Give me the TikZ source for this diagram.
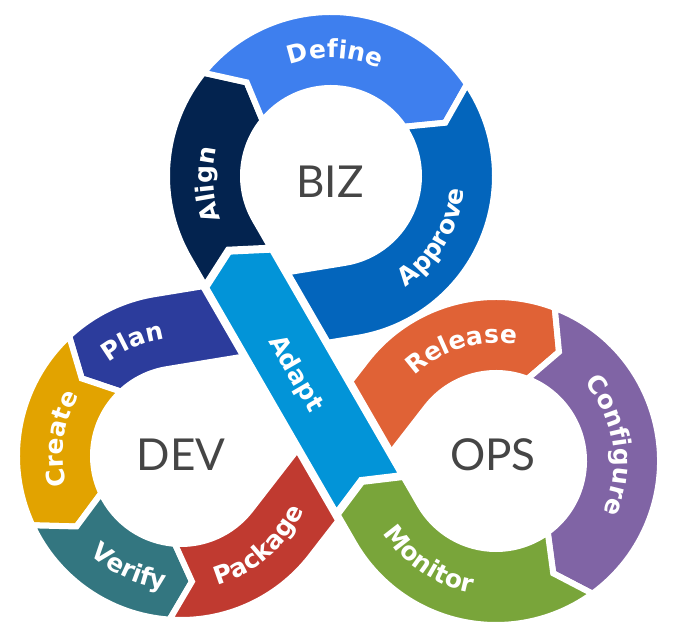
\documentclass[tikz,border=0pt]{standalone}
\usepackage{fontspec}
\newfontfamily\segfont{DejaVu Sans}
\newfontfamily\hubfont{Lato}
\usetikzlibrary{calc,decorations.text}
\definecolor{alignnavy}{HTML}{03234F}
\definecolor{defineblue}{HTML}{3E7FEE}
\definecolor{approveblue}{HTML}{0365BC}
\definecolor{adaptcyan}{HTML}{0294D8}
\definecolor{planindigo}{HTML}{2C3C9C}
\definecolor{creategold}{HTML}{E2A300}
\definecolor{verifyteal}{HTML}{337680}
\definecolor{packagered}{HTML}{C03A30}
\definecolor{releaseorange}{HTML}{E06236}
\definecolor{configurepurple}{HTML}{8064A5}
\definecolor{monitorgreen}{HTML}{79A53A}
\definecolor{hubgray}{HTML}{454545}

\begin{document}
\begin{tikzpicture}[x=1pt,y=1pt,
    piece/.style={fill=#1,draw=white,line width=6},
    strip/.style={fill=#1,draw=white,line width=8},
    hub/.style={font=\hubfont\fontsize{44}{44}\selectfont,text=hubgray},
    word/.style={decorate,decoration={text along path,text align=center,text color=white,
      text={|\segfont\bfseries\fontsize{25}{25}\selectfont|#1}}}]
        \useasboundingbox (0,0) rectangle (676,634);%
        \fill[white] (0,0) rectangle (676,634);%
        \coordinate (biz) at (331,458);%
        \coordinate (dev) at (181,178);%
        \coordinate (ops) at (496,173);%
        \coordinate (adapt) at ($(biz)+(210:126)$);%
        % BIZ loop
        \draw[piece=alignnavy] ($(biz)+(210:164)+(-60:30)$) -- ($(biz)+(210:164)$) arc[start angle=210,end angle=141,radius=164] -- ($(biz)+(132:126)$) -- ($(biz)+(141:88)$) arc[start angle=141,end angle=210,radius=88] -- ($(biz)+(210:88)+(-60:30)$) -- cycle;%
        \draw[piece=defineblue] ($(biz)+(141:164)$) arc[start angle=141,end angle=34,radius=164] -- ($(biz)+(25:126)$) -- ($(biz)+(34:88)$) arc[start angle=34,end angle=141,radius=88] -- ($(biz)+(132:126)$) -- cycle;%
        \draw[piece=approveblue] ($(biz)+(34:164)$) arc[start angle=34,end angle=-80.7,radius=164] -- ++(189.3:87.2) -- ($(biz)+(-80.7:88)+(189.3:87.2)$) -- ($(biz)+(-80.7:88)$) arc[start angle=-80.7,end angle=34,radius=88] -- ($(biz)+(25:126)$) -- cycle;%
        % DEV loop
        \draw[piece=planindigo] ($(dev)+(99.3:164)+(9.3:106.1)$) -- ($(dev)+(99.3:164)$) arc[start angle=99.3,end angle=133,radius=164] -- ($(dev)+(142:126)$) -- ($(dev)+(133:88)$) arc[start angle=133,end angle=99.3,radius=88] -- ($(dev)+(99.3:88)+(9.3:106.1)$) -- cycle;%
        \draw[piece=creategold] ($(dev)+(133:164)$) arc[start angle=133,end angle=205,radius=164] -- ($(dev)+(214:126)$) -- ($(dev)+(205:88)$) arc[start angle=205,end angle=133,radius=88] -- ($(dev)+(142:126)$) -- cycle;%
        \draw[piece=verifyteal] ($(dev)+(205:164)$) arc[start angle=205,end angle=266,radius=164] -- ($(dev)+(275:126)$) -- ($(dev)+(266:88)$) arc[start angle=266,end angle=205,radius=88] -- ($(dev)+(214:126)$) -- cycle;%
        \draw[piece=packagered] ($(dev)+(266:164)$) arc[start angle=266,end angle=322.2,radius=164] -- ++(52.2:103.6) -- ($(dev)+(322.2:88)+(52.2:103.6)$) -- ($(dev)+(322.2:88)$) arc[start angle=322.2,end angle=266,radius=88] -- ($(dev)+(275:126)$) -- cycle;%
        % OPS loop
        \draw[piece=releaseorange] ($(ops)+(142.2:164)+(232.2:85.7)$) -- ($(ops)+(142.2:164)$) arc[start angle=142.2,end angle=69,radius=164] -- ($(ops)+(60:126)$) -- ($(ops)+(69:88)$) arc[start angle=69,end angle=142.2,radius=88] -- ($(ops)+(142.2:88)+(232.2:85.7)$) -- cycle;%
        \draw[piece=configurepurple] ($(ops)+(69:164)$) arc[start angle=69,end angle=-54,radius=164] -- ($(ops)+(-63:126)$) -- ($(ops)+(-54:88)$) arc[start angle=-54,end angle=69,radius=88] -- ($(ops)+(60:126)$) -- cycle;%
        \draw[piece=monitorgreen] ($(ops)+(-54:164)$) arc[start angle=-54,end angle=-150,radius=164] -- ++(120:50) -- ($(ops)+(210:88)+(120:50)$) -- ($(ops)+(210:88)$) arc[start angle=-150,end angle=-54,radius=88] -- ($(ops)+(-63:126)$) -- cycle;%
        % the strip on top
        \draw[strip=adaptcyan] ($(adapt)+(-60:13.5)$) -- ($(adapt)+(-60:33.6)+(30:39)$) -- ($(adapt)+(-60:296.1)+(30:39)$) -- ($(adapt)+(-60:279.4)$) -- ($(adapt)+(-60:296.1)+(210:39)$) -- ($(adapt)+(-60:33.6)+(210:39)$) -- cycle;%
        % labels
        \path[word=Align] ($(biz)+(234:118)$) arc[start angle=234,end angle=134,radius=118];%
        \path[word=Define] ($(biz)+(138:118)$) arc[start angle=138,end angle=38,radius=118];%
        \path[word=Approve] ($(biz)+(-81:134)$) arc[start angle=-81,end angle=19,radius=134];%
        \path[word=Plan] ($(dev)+(163:118)$) arc[start angle=163,end angle=63,radius=118];%
        \path[word=Create] ($(dev)+(222:118)$) arc[start angle=222,end angle=122,radius=118];%
        \path[word=Verify] ($(dev)+(195:134)$) arc[start angle=195,end angle=295,radius=134];%
        \path[word=Package] ($(dev)+(261:134)$) arc[start angle=261,end angle=361,radius=134];%
        \path[word=Release] ($(ops)+(157:118)$) arc[start angle=157,end angle=57,radius=118];%
        \path[word=Configure] ($(ops)+(58:118)$) arc[start angle=58,end angle=-42,radius=118];%
        \path[word=Monitor] ($(ops)+(186:134)$) arc[start angle=186,end angle=286,radius=134];%
        \node[rotate=-60,text=white,font=\segfont\bfseries\fontsize{25}{25}\selectfont] (adaptlabel) at (295,260) {Adapt};%
        \node[hub] (bizlabel) at (330,452) {BIZ};%
        \node[hub] (devlabel) at (181,179) {DEV};%
        \node[hub] (opslabel) at (493,179) {OPS};%
\end{tikzpicture}
\end{document}
